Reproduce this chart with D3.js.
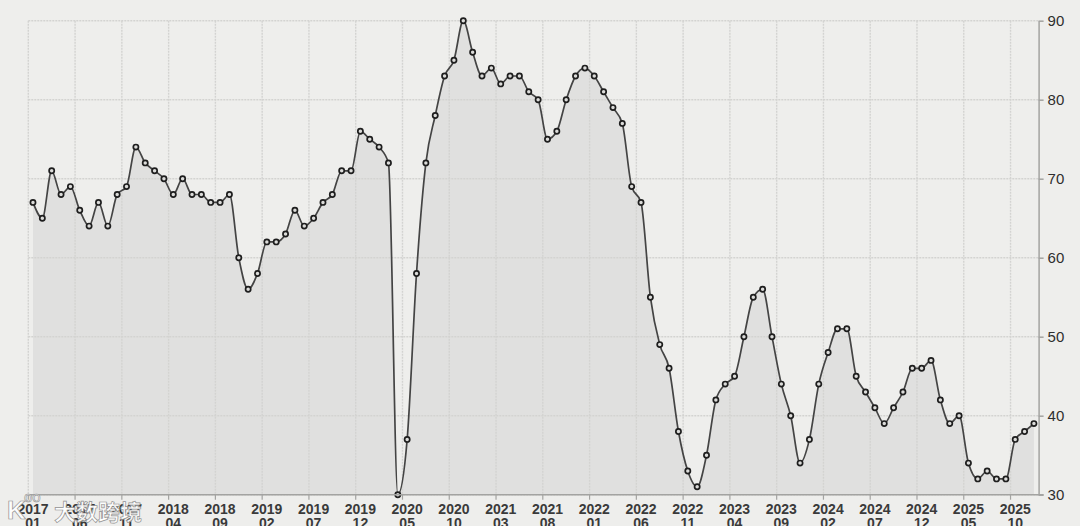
<!DOCTYPE html>
<html>
<head>
<meta charset="utf-8">
<script src="https://cdn.jsdelivr.net/npm/d3@7"></script>
<style>
  body{margin:0;background:#eeeeec;}
  svg{display:block;}
</style>
</head>
<body>
<div class="chart"></div>
<script>
/*data, one array per year*/
var years=[2017,2018,2019,2020,2021,2022,2023,2024,2025];
var v2017=[67,65,71,68,69,66,64,67,64,68,69,74];
var v2018=[72,71,70,68,70,68,68,67,67,68,60,56];
var v2019=[58,62,62,63,66,64,65,67,68,71,71,76];
var v2020=[75,74,72,30,37,58,72,78,83,85,90,86];
var v2021=[83,84,82,83,83,81,80,75,76,80,83,84];
var v2022=[83,81,79,77,69,67,55,49,46,38,33,31];
var v2023=[35,42,44,45,50,55,56,50,44,40,34,37];
var v2024=[44,48,51,51,45,43,41,39,41,43,46,46];
var v2025=[47,42,39,40,34,32,33,32,32,37,38,39];
var tickMonths=["2017-01","2017-06","2017-11","2018-04","2018-09","2019-02","2019-07","2019-12",
  "2020-05","2020-10","2021-03","2021-08","2022-01","2022-06","2022-11","2023-04","2023-09",
  "2024-02","2024-07","2024-12","2025-05","2025-10"];
var yTicks=[30,40,50,60,70,80,90];

/*build rows*/
var series=[v2017,v2018,v2019,v2020,v2021,v2022,v2023,v2024,v2025];
var data=[];
for (var i=0; i<years.length; i++){
  for (var j=0; j<12; j++){
    data.push({month: years[i]+"-"+(j<9?"0":"")+(j+1), value: series[i][j]});
  }
};

/*dimensions*/
var width=1080;
var height=526;

/*scales*/
var xScale=d3.scaleBand()
  .domain(data.map(function(d){return d.month}))
  .range([28.3, 1038.6]);
var bw=xScale.bandwidth();

var yScale=d3.scaleLinear()
  .domain([30,90])
  .range([494.7, 20.7]);

function cx(d){return xScale(d.month)+bw/2}
function cy(d){return yScale(d.value)}

var canvas=d3.select(".chart").append("svg")
  .attr("width", width)
  .attr("height", height);

canvas.append("rect")
  .attr("width", width)
  .attr("height", height)
  .attr("fill", "#eeeeec");

/*area under the line*/
var area=d3.area()
  .x(cx)
  .y0(yScale(30))
  .y1(cy)
  .curve(d3.curveMonotoneX);

canvas.append("path")
  .datum(data)
  .attr("d", area)
  .attr("fill", "#e0e0df");

/*grid*/
var grid=canvas.append("g").attr("class", "grid");

grid.selectAll(".hgrid")
  .data(yTicks)
  .enter().append("line")
  .attr("x1", xScale.range()[0])
  .attr("x2", xScale.range()[1])
  .attr("y1", function(d){return yScale(d)})
  .attr("y2", function(d){return yScale(d)})
  .style("stroke", "#d3d3d1")
  .style("stroke-width", "1.4px")
  .style("stroke-dasharray", "2,1");

grid.selectAll(".vgrid")
  .data(tickMonths)
  .enter().append("line")
  .attr("x1", function(d){return xScale(d)})
  .attr("x2", function(d){return xScale(d)})
  .attr("y1", yScale(90))
  .attr("y2", yScale(30))
  .style("stroke", "#d3d3d1")
  .style("stroke-width", "1.4px")
  .style("stroke-dasharray", "2,1");

/*line*/
var line=d3.line()
  .x(cx)
  .y(cy)
  .curve(d3.curveMonotoneX);

canvas.append("path")
  .datum(data)
  .attr("d", line)
  .attr("fill", "none")
  .style("stroke", "#444")
  .style("stroke-width", "1.7px");

canvas.selectAll(".dot")
  .data(data)
  .enter().append("circle")
  .attr("class", "dot")
  .attr("cx", cx)
  .attr("cy", cy)
  .attr("r", 2.6)
  .attr("fill", "#dcdcda")
  .style("stroke", "#1e1e1e")
  .style("stroke-width", "1.7px");

/*right axis*/
var yAxis=d3.axisRight(yScale)
  .tickValues(yTicks)
  .tickSize(5)
  .tickSizeOuter(0)
  .tickPadding(4);

var ya=canvas.append("g")
  .attr("class", "y-axis")
  .attr("transform", "translate("+xScale.range()[1]+",0)")
  .call(yAxis);
ya.select(".domain").style("stroke", "#a3a3a1").style("stroke-width", "1.5px");
ya.selectAll(".tick line").style("stroke", "#a3a3a1").style("stroke-width", "1.5px");
ya.selectAll(".tick text")
  .style("font-family", "'Liberation Sans', Arial, sans-serif")
  .style("font-size", "15px")
  .style("fill", "#2e2e2e");

/*bottom axis, ticks at band edges and labels at band centres*/
var xa=canvas.append("g").attr("class", "x-axis");

xa.append("line")
  .attr("x1", xScale.range()[0])
  .attr("x2", xScale.range()[1]+5)
  .attr("y1", yScale(30))
  .attr("y2", yScale(30))
  .style("stroke", "#a3a3a1")
  .style("stroke-width", "1.5px");

var xt=xa.selectAll(".tick")
  .data(tickMonths)
  .enter().append("g")
  .attr("class", "tick");

xt.append("line")
  .attr("x1", function(d){return xScale(d)})
  .attr("x2", function(d){return xScale(d)})
  .attr("y1", yScale(30))
  .attr("y2", yScale(30)+5)
  .style("stroke", "#a3a3a1")
  .style("stroke-width", "1.2px");

var lbl=xt.append("text")
  .attr("text-anchor", "middle")
  .attr("x", function(d){return xScale(d)+bw/2})
  .attr("y", 514)
  .style("font-family", "'Liberation Sans', Arial, sans-serif")
  .style("font-size", "14px")
  .style("font-weight", "bold")
  .style("fill", "#3a3a3a");

lbl.append("tspan")
  .attr("x", function(d){return xScale(d)+bw/2})
  .text(function(d){return d.split("-")[0]});
lbl.append("tspan")
  .attr("x", function(d){return xScale(d)+bw/2})
  .attr("dy", 13.5)
  .text(function(d){return d.split("-")[1]});

/*watermark*/
var wm=canvas.append("g")
  .style("opacity", 0.92);

wm.append("text")
  .attr("x", 7)
  .attr("y", 519)
  .text("K")
  .style("font-family", "'Liberation Sans', Arial, sans-serif")
  .style("font-size", "26px")
  .style("font-weight", "bold")
  .style("fill", "#ffffff")
  .style("stroke", "#8a8a8a")
  .style("stroke-width", "0.7px");

wm.append("text")
  .attr("x", 24)
  .attr("y", 502)
  .text("oo")
  .style("font-family", "'Liberation Sans', Arial, sans-serif")
  .style("font-size", "15px")
  .style("fill", "#ffffff")
  .style("stroke", "#8a8a8a")
  .style("stroke-width", "0.6px");

wm.append("text")
  .attr("x", 54)
  .attr("y", 520)
  .text("大数跨境")
  .style("font-family", "'Noto Sans CJK SC', sans-serif")
  .style("font-size", "22px")
  .style("font-weight", "bold")
  .style("fill", "#ffffff")
  .style("stroke", "#8a8a8a")
  .style("stroke-width", "0.7px");
</script>
</body>
</html>
